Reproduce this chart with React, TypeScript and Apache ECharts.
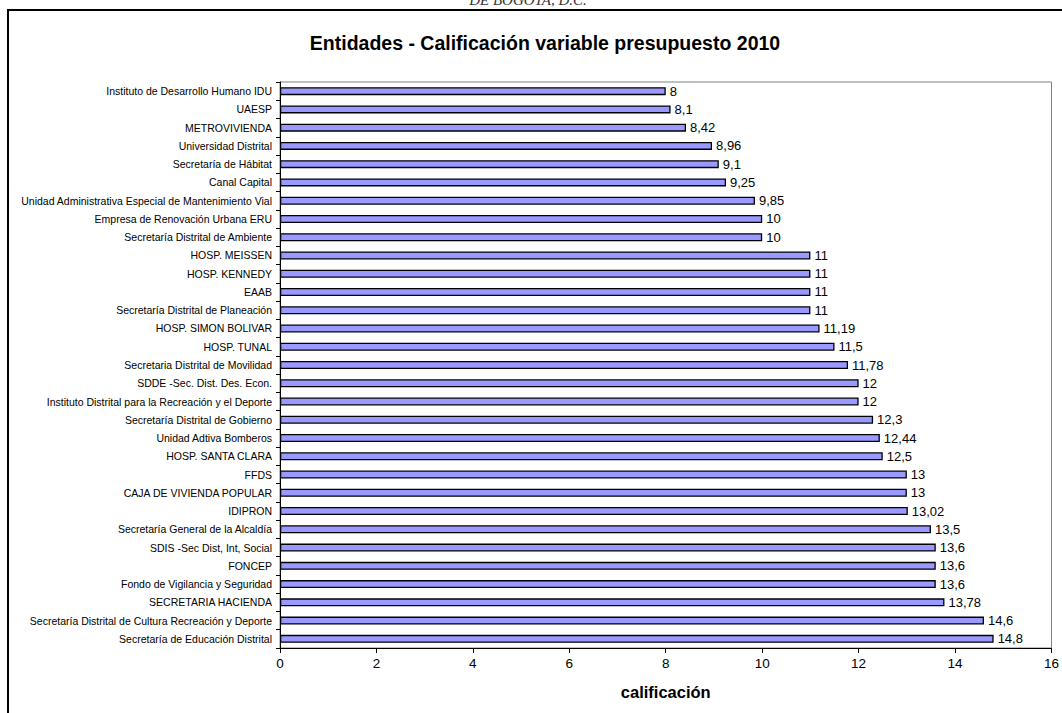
import React, { useEffect, useRef } from "react";
import * as echarts from "echarts";

const categories: string[] = [
  "Instituto de Desarrollo Humano IDU",
  "UAESP",
  "METROVIVIENDA",
  "Universidad Distrital",
  "Secretaría de Hábitat",
  "Canal Capital",
  "Unidad Administrativa Especial de Mantenimiento Vial",
  "Empresa de Renovación Urbana ERU",
  "Secretaría Distrital de Ambiente",
  "HOSP. MEISSEN",
  "HOSP. KENNEDY",
  "EAAB",
  "Secretaría Distrital de Planeación",
  "HOSP. SIMON BOLIVAR",
  "HOSP. TUNAL",
  "Secretaria Distrital de Movilidad",
  "SDDE -Sec. Dist. Des. Econ.",
  "Instituto Distrital para la Recreación y el Deporte",
  "Secretaría Distrital de Gobierno",
  "Unidad Adtiva Bomberos",
  "HOSP. SANTA CLARA",
  "FFDS",
  "CAJA DE VIVIENDA POPULAR",
  "IDIPRON",
  "Secretaría General de la Alcaldía",
  "SDIS -Sec Dist, Int, Social",
  "FONCEP",
  "Fondo de Vigilancia y Seguridad",
  "SECRETARIA HACIENDA",
  "Secretaría Distrital de Cultura Recreación y Deporte",
  "Secretaría de Educación Distrital",
];

const values: number[] = [
  8, 8.1, 8.42, 8.96, 9.1, 9.25, 9.85, 10, 10, 11, 11, 11, 11, 11.19, 11.5,
  11.78, 12, 12, 12.3, 12.44, 12.5, 13, 13, 13.02, 13.5, 13.6, 13.6, 13.6,
  13.78, 14.6, 14.8,
];

const titleText = "Entidades - Calificación variable presupuesto 2010";
const headerText = "DE BOGOTA, D.C.";
const axisName = "calificación";

export default function App() {
  const ref = useRef<HTMLDivElement>(null);
  useEffect(() => {
    document.body.style.margin = "0";
    if (!ref.current) return;
    const chart = echarts.init(ref.current, undefined, { renderer: "svg" });
    chart.setOption({
      animation: false,
      backgroundColor: "#ffffff",
      textStyle: { fontFamily: "Liberation Sans, Arial, sans-serif" },
      title: {
        text: titleText,
        left: 540,
        textAlign: "center",
        top: 28,
        textStyle: {
          fontFamily: "Liberation Sans, Arial, sans-serif",
          fontSize: 19.5,
          fontWeight: "bold",
          color: "#000",
        },
      },
      graphic: [
        {
          type: "rect",
          shape: { x: 8, y: 10, width: 1200, height: 900 },
          style: { fill: "none", stroke: "#000", lineWidth: 2 },
          silent: true,
        },
        {
          type: "text",
          x: 528,
          y: -8,
          style: {
            text: headerText,
            font: "italic 15px 'Liberation Serif', serif",
            fill: "#333",
            textAlign: "center",
            textVerticalAlign: "top",
          },
          silent: true,
        },
      ],
      grid: {
        left: 280,
        right: 9,
        top: 82,
        bottom: 65,
        show: true,
        borderColor: "#808080",
        borderWidth: 1,
        containLabel: false,
      },
      xAxis: {
        type: "value",
        min: 0,
        max: 16,
        interval: 2,
        name: axisName,
        nameLocation: "middle",
        nameGap: 35,
        nameTextStyle: {
          fontFamily: "Liberation Sans, Arial, sans-serif",
          fontSize: 16.5,
          fontWeight: "bold",
          color: "#000",
        },
        splitLine: { show: false },
        axisLine: { show: true, lineStyle: { color: "#000", width: 1 } },
        axisTick: { show: true, length: 5, lineStyle: { color: "#000" } },
        axisLabel: {
          fontSize: 13.5,
          color: "#000",
          margin: 8,
          fontFamily: "Liberation Sans, Arial, sans-serif",
        },
      },
      yAxis: {
        type: "category",
        data: categories,
        inverse: true,
        axisLine: { show: true, lineStyle: { color: "#000", width: 1 } },
        axisTick: { show: true, length: 4, alignWithLabel: false, lineStyle: { color: "#000" } },
        axisLabel: {
          fontSize: 10.5,
          color: "#000",
          margin: 8,
          fontFamily: "Liberation Sans, Arial, sans-serif",
        },
        splitLine: { show: false },
      },
      series: [
        {
          type: "bar",
          data: values,
          barWidth: 8,
          itemStyle: {
            color: "#9999ff",
            borderColor: "#000",
            borderWidth: 1.3,
          },
          label: {
            show: true,
            position: "right",
            distance: 4,
            fontSize: 13,
            color: "#000",
            fontFamily: "Liberation Sans, Arial, sans-serif",
            formatter: (p: any) => String(p.value).replace(".", ","),
          },
        },
      ],
    });
    return () => chart.dispose();
  }, []);
  return <div ref={ref} style={{ width: 1062, height: 713 }} />;
}
